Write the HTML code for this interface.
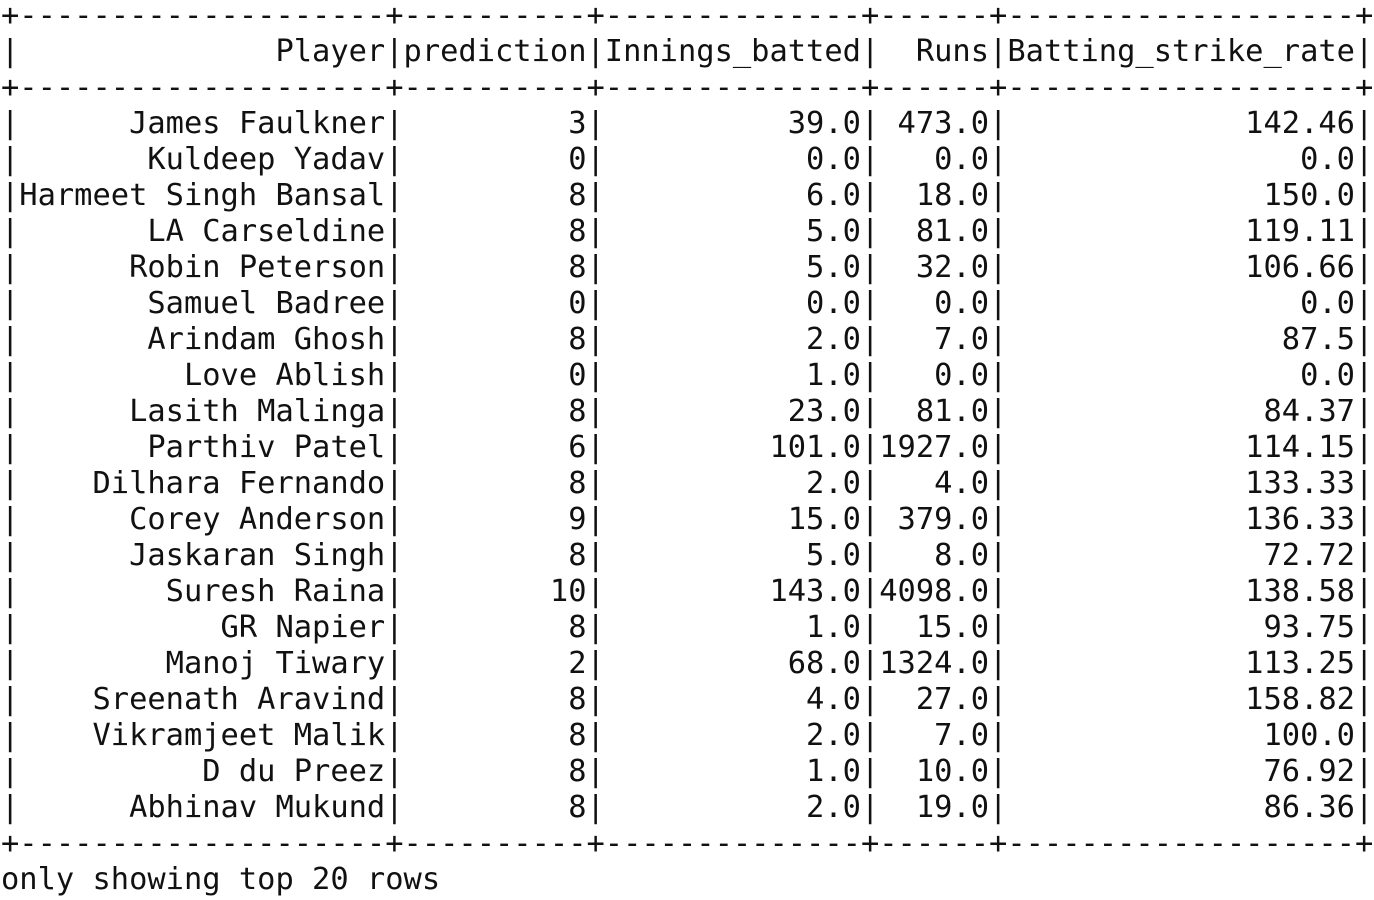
<!DOCTYPE html>
<html>
<head>
<meta charset="utf-8">
<style>
html,body{margin:0;padding:0;background:#fff;width:1374px;height:900px;overflow:hidden;}
#tbl{position:absolute;left:1px;top:-2px;margin:0;font-family:"DejaVu Sans Mono","Liberation Mono",monospace;font-size:30.4px;line-height:36px;color:#111;white-space:pre;}
</style>
</head>
<body>
<pre id="tbl"><span>+--------------------+----------+--------------+------+-------------------+</span>
<span>|              Player|prediction|Innings_batted|  Runs|Batting_strike_rate|</span>
<span>+--------------------+----------+--------------+------+-------------------+</span>
<span>|      James Faulkner|         3|          39.0| 473.0|             142.46|</span>
<span>|       Kuldeep Yadav|         0|           0.0|   0.0|                0.0|</span>
<span>|Harmeet Singh Bansal|         8|           6.0|  18.0|              150.0|</span>
<span>|       LA Carseldine|         8|           5.0|  81.0|             119.11|</span>
<span>|      Robin Peterson|         8|           5.0|  32.0|             106.66|</span>
<span>|       Samuel Badree|         0|           0.0|   0.0|                0.0|</span>
<span>|       Arindam Ghosh|         8|           2.0|   7.0|               87.5|</span>
<span>|         Love Ablish|         0|           1.0|   0.0|                0.0|</span>
<span>|      Lasith Malinga|         8|          23.0|  81.0|              84.37|</span>
<span>|       Parthiv Patel|         6|         101.0|1927.0|             114.15|</span>
<span>|    Dilhara Fernando|         8|           2.0|   4.0|             133.33|</span>
<span>|      Corey Anderson|         9|          15.0| 379.0|             136.33|</span>
<span>|      Jaskaran Singh|         8|           5.0|   8.0|              72.72|</span>
<span>|        Suresh Raina|        10|         143.0|4098.0|             138.58|</span>
<span>|           GR Napier|         8|           1.0|  15.0|              93.75|</span>
<span>|        Manoj Tiwary|         2|          68.0|1324.0|             113.25|</span>
<span>|    Sreenath Aravind|         8|           4.0|  27.0|             158.82|</span>
<span>|    Vikramjeet Malik|         8|           2.0|   7.0|              100.0|</span>
<span>|          D du Preez|         8|           1.0|  10.0|              76.92|</span>
<span>|      Abhinav Mukund|         8|           2.0|  19.0|              86.36|</span>
<span>+--------------------+----------+--------------+------+-------------------+</span>
<span>only showing top 20 rows</span></pre>
</body>
</html>
